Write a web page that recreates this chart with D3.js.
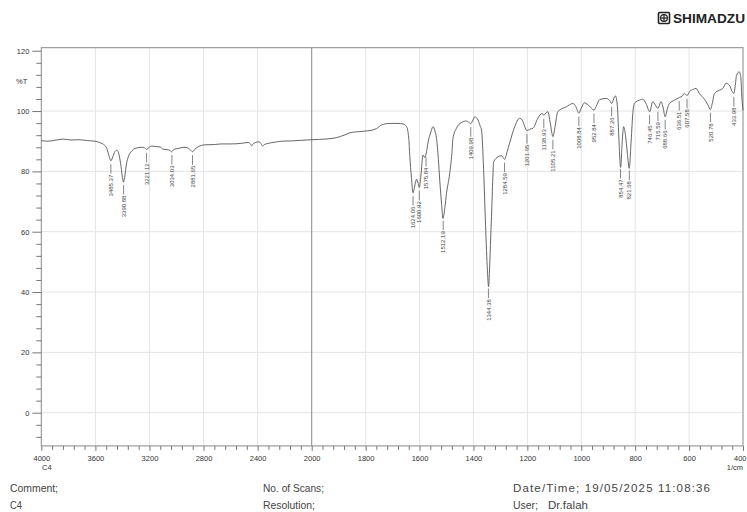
<!doctype html>
<html lang="en">
<head>
<meta charset="utf-8">
<script src="https://d3js.org/d3.v7.min.js"></script>
<title>FTIR C4</title>
<style>
  body { margin: 0; background: #fff; }
  svg { display: block; font-family: "Liberation Sans", Arial, sans-serif; }
  .grid line { stroke: #e4e4e4; stroke-width: 1; }
  .ax path { display: none; }
  .ax line { stroke: #777; }
  .ax text { fill: #333; font-size: 7.5px; }
  .foot { fill: #444; font-size: 11.5px; font-family: "Liberation Sans Narrow", "Liberation Sans", sans-serif; }
  .plab { fill: #444; font-size: 6px; }
</style>
</head>
<body>
<div id="chart"></div>
<script>
// spectrum, wavenumber (1/cm) vs %T
const waveNumbers = [4000,3950,3900,3837,3780,3726,3660,3603,3560,3541,3515,3495,3485,3472,3455,3442,3425,3410,3400,3392,3384,3370,3356,3330,3307,3257,3235,3221,3205,3183,3150,3122,3100,3070,3050,3036,3020,2987,2960,2937,2910,2895,2881,2865,2839,2789,2720,2666,2600,2518,2469,2455,2444,2432,2414,2390,2375,2365,2345,2321,2270,2222,2150,2074,2000,1950,1907,1880,1858,1809,1780,1759,1741,1710,1680,1661,1648,1640,1636,1630,1624,1617,1611,1605,1601,1595,1587,1580,1574,1568,1558,1550,1543,1537,1530,1525,1518,1513,1506,1500,1488,1480,1476,1463,1450,1426,1418,1410,1402,1395,1383,1375,1370,1362,1355,1348,1344,1340,1336,1333,1328,1325,1309,1296,1284,1275,1266,1247,1229,1219,1210,1202,1190,1179,1161,1145,1139,1130,1124,1115,1105,1097,1087,1056,1031,1020,1009,1000,988,969,953,945,932,907,895,887,880,873,866,860,854,848,843,836,829,822,815,808,803,790,772,760,746,735,725,716,704,696,689,680,673,654,636,625,618,607,598,587,574,562,543,530,521,514,506,488,475,463,451,440,434,428,424,414,408,405,402,400];
const transmittance = [90.2,90.0,90.3,90.7,90.4,90.5,90.2,90.0,89.4,89.0,87.5,84.5,83.5,84.8,86.6,87.0,85.5,81.5,78.0,76.4,78.0,82.5,84.9,86.8,87.6,88.0,87.8,87.3,87.9,88.4,88.2,88.1,87.4,87.2,87.0,86.5,87.3,87.6,87.9,88.0,87.6,87.0,86.5,87.3,88.2,88.8,88.9,89.1,89.1,89.3,89.6,89.2,88.5,89.2,89.6,89.8,89.2,88.5,89.0,89.3,89.7,90.0,90.1,90.3,90.5,90.7,91.2,92.0,92.8,93.3,93.6,94.2,95.4,95.9,95.9,95.7,94.8,91.0,85.0,78.0,72.9,75.5,77.4,76.0,74.7,78.5,85.4,84.6,86.5,89.8,93.0,94.8,93.5,90.9,84.0,77.1,69.0,64.4,68.0,72.7,79.3,86.0,90.9,94.3,95.9,96.7,96.3,95.8,97.0,98.1,97.0,95.0,93.7,80.0,62.0,47.0,41.8,48.0,58.0,65.0,78.0,83.2,84.8,85.2,84.0,86.5,89.3,94.8,97.6,97.0,95.0,93.5,94.0,94.3,97.6,99.2,98.6,99.5,99.8,96.0,91.5,95.0,99.8,101.4,102.5,101.5,99.3,101.0,102.7,101.6,100.3,101.5,103.8,104.2,103.5,102.5,104.0,105.0,101.5,90.0,81.3,90.0,94.8,92.0,86.0,81.0,90.0,100.0,102.5,103.4,103.9,102.5,99.8,103.1,102.0,100.9,103.1,101.0,98.1,101.0,102.5,103.6,104.5,105.0,105.8,105.2,106.5,107.1,107.5,105.8,103.9,102.0,100.5,102.5,105.8,106.9,107.5,109.2,108.6,106.5,105.8,109.0,111.9,113.0,111.0,105.8,102.0,100.3];

const peakLabels = [3485.37,3390.88,3221.12,3034.03,2881.65,1624.06,1600.92,1575.84,1512.19,1409.98,1344.38,1284.59,1201.65,1138.93,1105.21,1008.84,952.84,887.26,854.47,821.68,746.45,715.59,688.66,636.51,607.58,520.78,433.98];

const xTicks = [4000,3600,3200,2800,2400,2000,1800,1600,1400,1200,1000,800,600,400];
const yTicks = [0,20,40,60,80,100,120];

const W = 747, H = 512;
const svg = d3.select('#chart').append('svg').attr('width', W).attr('height', H);

// Shimadzu: expanded scale below 2000
const xScale = d3.scaleLinear().domain([4000, 2000, 400]).range([41.3, 311.7, 743]);
const yScale = d3.scaleLinear().domain([-11, 121]).range([445.9, 47.7]);
const pTop = yScale(121), pBottom = yScale(-11), pLeft = xScale(4000), pRight = xScale(400);

// grid
const grid = svg.append('g').attr('class', 'grid');
grid.selectAll('.vg').data(xTicks.filter(d => d !== 4000 && d !== 400 && d !== 2000)).enter()
  .append('line').attr('x1', d => xScale(d)).attr('x2', d => xScale(d)).attr('y1', pTop).attr('y2', pBottom);
grid.selectAll('.hg').data(yTicks.filter(d => d !== 120)).enter()
  .append('line').attr('x1', pLeft).attr('x2', pRight).attr('y1', d => yScale(d)).attr('y2', d => yScale(d));
svg.append('line').attr('x1', xScale(2000)).attr('x2', xScale(2000)).attr('y1', pTop).attr('y2', pBottom)
  .attr('stroke', '#8a8a8a');

// frame
svg.append('rect').attr('x', pLeft).attr('y', pTop).attr('width', pRight - pLeft).attr('height', pBottom - pTop)
  .attr('fill', 'none').attr('stroke', '#888').attr('stroke-width', 1);

// y axis
const yMinor = d3.range(-8, 121, 4).filter(d => d % 20 !== 0);
svg.append('g').attr('class', 'ax').attr('transform', `translate(${pLeft},0)`)
  .call(d3.axisLeft(yScale).tickValues(yMinor).tickSize(5).tickFormat(''));
svg.append('g').attr('class', 'ax').attr('transform', `translate(${pLeft},0)`)
  .call(d3.axisLeft(yScale).tickValues(yTicks).tickSize(9).tickPadding(3).tickFormat(d3.format('d')));
svg.append('text').attr('x', 16).attr('y', 83.5).attr('fill', '#333').attr('font-size', '7.5px').text('%T');

// x axis
const xMinor = d3.range(4000, 2000, -80).concat(d3.range(2000, 399, -40)).filter(d => !xTicks.includes(d));
svg.append('g').attr('class', 'ax').attr('transform', `translate(0,${pBottom})`)
  .call(d3.axisBottom(xScale).tickValues(xMinor).tickSize(4).tickFormat(''));
const xAx = svg.append('g').attr('class', 'ax').attr('transform', `translate(0,${pBottom})`)
  .call(d3.axisBottom(xScale).tickValues(xTicks).tickSize(5).tickPadding(5).tickFormat(d3.format('d')));
// last label sits at the page edge
xAx.selectAll('.tick text').filter(d => d === 400).attr('text-anchor', 'end').attr('x', 746 - xScale(400));
svg.append('text').attr('x', xScale(4000) + 5.5).attr('y', 469.5).attr('text-anchor', 'middle')
  .attr('fill', '#333').attr('font-size', '7.5px').text('C4');
svg.append('text').attr('x', 735).attr('y', 469.5).attr('text-anchor', 'middle')
  .attr('fill', '#333').attr('font-size', '7.5px').text('1/cm');

// spectrum
const pts = waveNumbers.map((w, i) => [w, transmittance[i]]);
svg.append('path').datum(pts)
  .attr('fill', 'none').attr('stroke', '#555').attr('stroke-width', 0.9)
  .attr('d', d3.line().x(d => xScale(d[0])).y(d => yScale(d[1])).curve(d3.curveMonotoneX));

// peak labels
function tAt(w) {
  for (let i = 0; i < waveNumbers.length - 1; i++) {
    const a = waveNumbers[i], b = waveNumbers[i + 1];
    if (w <= a && w >= b) {
      const f = (a - w) / (a - b);
      return transmittance[i] + f * (transmittance[i + 1] - transmittance[i]);
    }
  }
  return transmittance[transmittance.length - 1];
}
const pl = svg.append('g');
peakLabels.forEach(w => {
  const x = xScale(w), y = yScale(tAt(w));
  pl.append('line').attr('x1', x).attr('x2', x).attr('y1', y + 3.5).attr('y2', y + 13)
    .attr('stroke', '#666').attr('stroke-width', 0.8);
  pl.append('text').attr('class', 'plab')
    .attr('transform', `translate(${x},${y + 14}) rotate(-90)`)
    .attr('text-anchor', 'end').attr('dy', '0.35em').text(w.toFixed(2));
});

// logo
const logo = svg.append('g');
logo.append('rect').attr('x', 658.5).attr('y', 12.5).attr('width', 11).attr('height', 11).attr('rx', 1)
  .attr('fill', 'none').attr('stroke', '#222').attr('stroke-width', 1.6);
logo.append('circle').attr('cx', 664).attr('cy', 18).attr('r', 3.4).attr('fill', 'none').attr('stroke', '#222').attr('stroke-width', 1.2);
logo.append('line').attr('x1', 664).attr('x2', 664).attr('y1', 14.6).attr('y2', 21.4).attr('stroke', '#222').attr('stroke-width', 1.2);
logo.append('line').attr('x1', 660.6).attr('x2', 667.4).attr('y1', 18).attr('y2', 18).attr('stroke', '#222').attr('stroke-width', 1.2);
logo.append('text').attr('x', 673).attr('y', 23).attr('font-size', '12.5px').attr('font-weight', 900)
  .attr('fill', '#222').attr('textLength', 72).attr('lengthAdjust', 'spacingAndGlyphs').text('SHIMADZU');

// footer
const foot = [
  ['Comment;', 10, 492, 48, 'spacingAndGlyphs'], ['C4', 10, 509, 12, 'spacingAndGlyphs'],
  ['No. of Scans;', 263, 492, 61, 'spacingAndGlyphs'], ['Resolution;', 263, 509, 52, 'spacingAndGlyphs'],
  ['Date/Time; 19/05/2025 11:08:36', 513, 492, 197, 'spacing'], ['User;', 513, 509, 25, 'spacingAndGlyphs'],
  ['Dr.falah', 548, 509, 40, 'spacing']
];
svg.selectAll('.foot').data(foot).enter().append('text').attr('class', 'foot')
  .attr('x', d => d[1]).attr('y', d => d[2]).attr('textLength', d => d[3])
  .attr('lengthAdjust', d => d[4]).text(d => d[0]);
</script>
</body>
</html>
